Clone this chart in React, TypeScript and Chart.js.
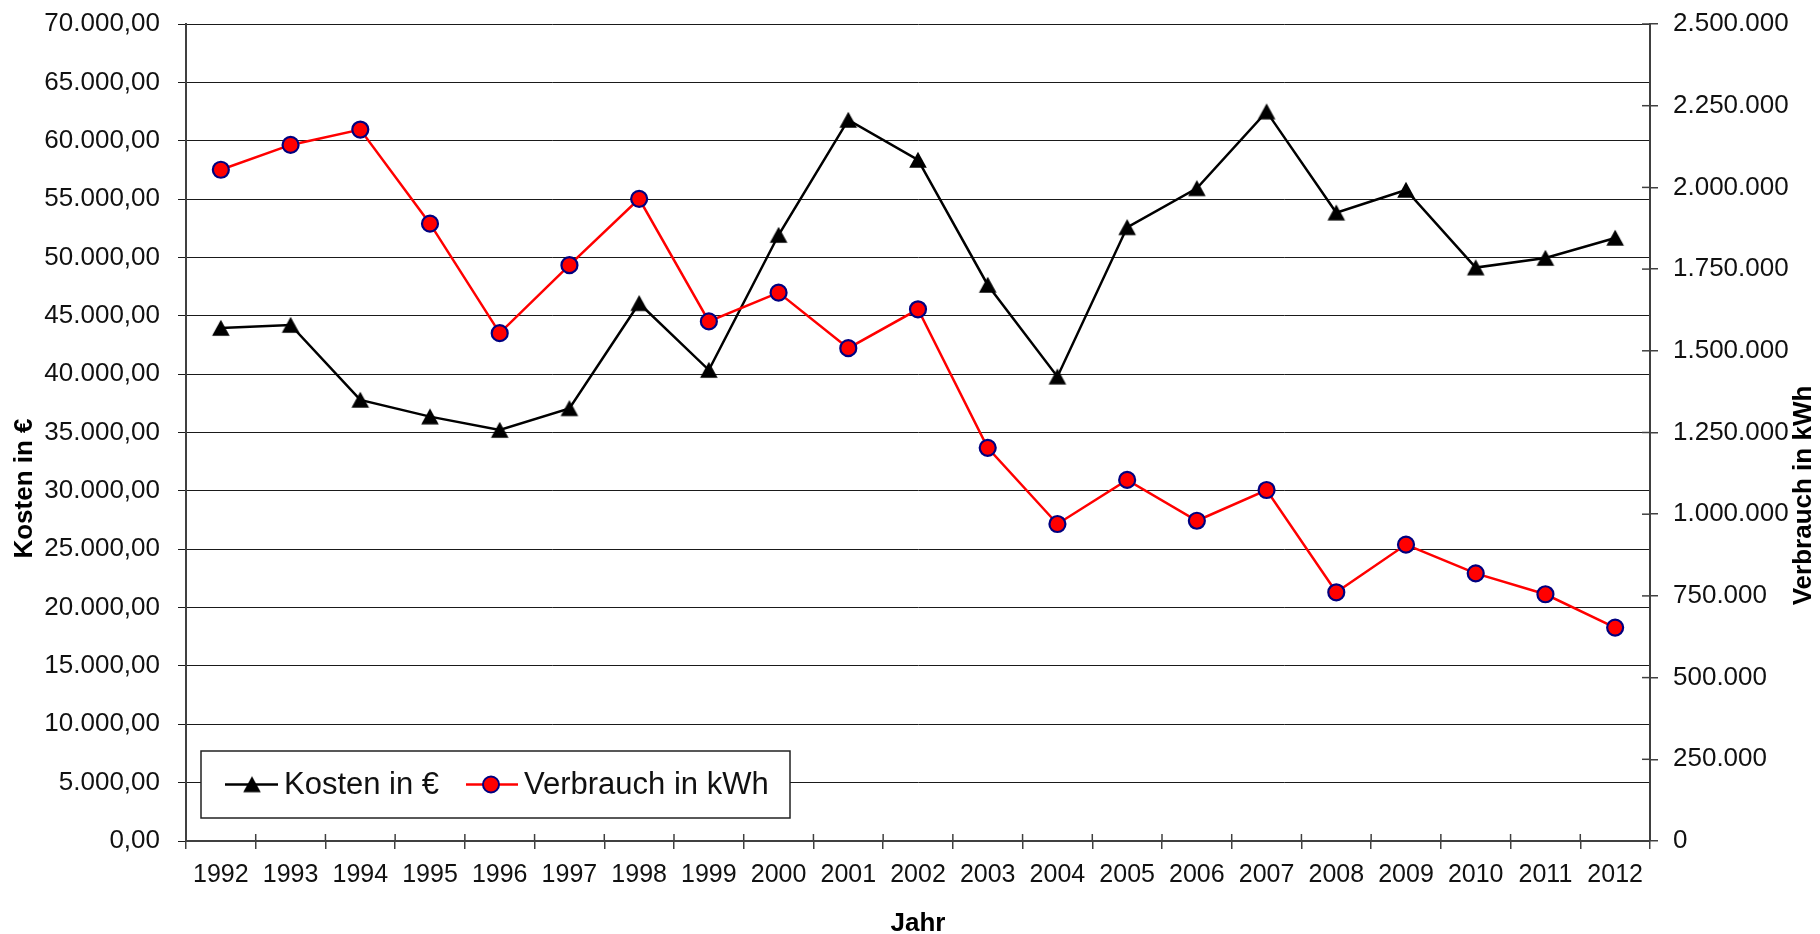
import React, { useEffect, useRef } from "react";
import { Chart, registerables } from "chart.js";

Chart.register(...registerables);

// ---- data ----
const years = [
  "1992", "1993", "1994", "1995", "1996", "1997", "1998", "1999", "2000", "2001", "2002",
  "2003", "2004", "2005", "2006", "2007", "2008", "2009", "2010", "2011", "2012",
];

const kostenEuro = [
  43950, 44210, 37790, 36360, 35210, 37070, 46070, 40350, 51920, 61780, 58350,
  47640, 39780, 52580, 55920, 62490, 53830, 55780, 49130, 49950, 51670,
];

const verbrauchKwh = [
  2054000, 2130000, 2177000, 1889000, 1554000, 1762000, 1965000, 1590000, 1678000, 1508000, 1627000,
  1203000, 970000, 1105000, 980000, 1074000, 761000, 907000, 819000, 755000, 653000,
];

const seriesLabels = ["Kosten in €", "Verbrauch in kWh"];
const axisTitles = { x: "Jahr", left: "Kosten in €", right: "Verbrauch in kWh" };
const leftMax = 70000;
const leftStep = 5000;
const rightMax = 2500000;
const rightStep = 250000;

// ---- helpers ----
const FONT = "'Liberation Sans', Arial, Helvetica, sans-serif";

function groupThousands(n: number): string {
  return Math.round(n)
    .toString()
    .replace(/\B(?=(\d{3})+(?!\d))/g, ".");
}

function makeTriangle(): HTMLCanvasElement {
  const c = document.createElement("canvas");
  c.width = 20;
  c.height = 20;
  const g = c.getContext("2d")!;
  g.fillStyle = "#000";
  g.beginPath();
  g.moveTo(10, 1.8);
  g.lineTo(18.8, 17.8);
  g.lineTo(1.2, 17.8);
  g.closePath();
  g.fill();
  return c;
}

const innerTicksPlugin = {
  id: "innerTicks",
  beforeDatasetsDraw(chart: any) {
    const { ctx, chartArea, scales } = chart;
    ctx.save();
    ctx.strokeStyle = "#404040";
    ctx.lineWidth = 1.5;
    const xs = scales.x;
    const n = xs.getLabels().length;
    const step = xs.getPixelForValue(1) - xs.getPixelForValue(0);
    for (let i = 0; i <= n; i++) {
      const px = xs.getPixelForValue(0) - step / 2 + i * step;
      ctx.beginPath();
      ctx.moveTo(px, chartArea.bottom);
      ctx.lineTo(px, chartArea.bottom - 7);
      ctx.stroke();
    }
    const y1 = scales.y1;
    y1.ticks.forEach((t: any) => {
      const py = y1.getPixelForValue(t.value);
      ctx.beginPath();
      ctx.moveTo(chartArea.right - 8, py);
      ctx.lineTo(chartArea.right, py);
      ctx.stroke();
    });
    ctx.restore();
  },
};

const axisTitlePlugin = {
  id: "axisTitlesRotated",
  afterDraw(chart: any) {
    const { ctx, chartArea, width } = chart;
    const midY = (chartArea.top + chartArea.bottom) / 2;
    ctx.save();
    ctx.font = `bold 26px ${FONT}`;
    ctx.fillStyle = "#000";
    ctx.textAlign = "center";
    ctx.textBaseline = "middle";
    ctx.save();
    ctx.translate(25, midY + 56);
    ctx.rotate(-Math.PI / 2);
    ctx.fillText(axisTitles.left, 0, 0);
    ctx.restore();
    ctx.save();
    ctx.translate(width - 16, midY + 63);
    ctx.rotate(-Math.PI / 2);
    ctx.fillText(axisTitles.right, 0, 0);
    ctx.restore();
    ctx.restore();
  },
};

function makeLegendPlugin(triangle: HTMLCanvasElement) {
  return {
    id: "boxLegend",
    afterDatasetsDraw(chart: any) {
      const { ctx, chartArea } = chart;
      const ds = chart.data.datasets;
      const left = chartArea.left + 15;
      const top = chartArea.bottom - 90;
      const w = 589;
      const h = 67;
      const cy = top + h / 2;
      ctx.save();
      ctx.fillStyle = "#fff";
      ctx.fillRect(left, top, w, h);
      ctx.strokeStyle = "#222";
      ctx.lineWidth = 1.5;
      ctx.strokeRect(left, top, w, h);

      ctx.font = `31px ${FONT}`;
      ctx.textBaseline = "middle";
      ctx.textAlign = "left";

      ctx.strokeStyle = ds[0].borderColor;
      ctx.lineWidth = 2.5;
      ctx.beginPath();
      ctx.moveTo(left + 24, cy);
      ctx.lineTo(left + 77, cy);
      ctx.stroke();
      ctx.drawImage(triangle, left + 51 - 10, cy - 10);
      ctx.fillStyle = "#111";
      ctx.fillText(ds[0].label, left + 83, cy + 1);

      ctx.strokeStyle = ds[1].borderColor;
      ctx.lineWidth = 2.5;
      ctx.beginPath();
      ctx.moveTo(left + 265, cy);
      ctx.lineTo(left + 317, cy);
      ctx.stroke();
      ctx.beginPath();
      ctx.arc(left + 290, cy, 8, 0, Math.PI * 2);
      ctx.fillStyle = ds[1].pointBackgroundColor;
      ctx.fill();
      ctx.lineWidth = 2;
      ctx.strokeStyle = ds[1].pointBorderColor;
      ctx.stroke();
      ctx.fillStyle = "#111";
      ctx.fillText(ds[1].label, left + 323, cy + 1);
      ctx.restore();
    },
  };
}

export default function App() {
  const ref = useRef<HTMLCanvasElement | null>(null);

  useEffect(() => {
    if (!ref.current) return;
    const triangle = makeTriangle();
    const chart = new Chart(ref.current, {
      type: "line",
      data: {
        labels: years,
        datasets: [
          {
            label: seriesLabels[0],
            data: kostenEuro,
            yAxisID: "y",
            borderColor: "#000000",
            backgroundColor: "#000000",
            borderWidth: 2.5,
            pointStyle: triangle as any,
            pointRadius: 9,
            tension: 0,
            order: 1,
          },
          {
            label: seriesLabels[1],
            data: verbrauchKwh,
            yAxisID: "y1",
            borderColor: "#ff0000",
            backgroundColor: "#ff0000",
            borderWidth: 2.5,
            pointStyle: "circle",
            pointRadius: 8,
            pointBorderWidth: 2.2,
            pointBackgroundColor: "#ff0000",
            pointBorderColor: "#000080",
            tension: 0,
            order: 0,
          },
        ],
      },
      options: {
        animation: false,
        responsive: false,
        devicePixelRatio: 1,
        layout: { padding: { top: 24, left: 0, right: 0, bottom: 0 } },
        plugins: {
          legend: { display: false },
          tooltip: { enabled: false },
        },
        scales: {
          x: {
            type: "category",
            offset: true,
            grid: {
              display: true,
              drawOnChartArea: false,
              offset: true,
              tickLength: 8,
              color: "#404040",
              lineWidth: 1.5,
            },
            border: { color: "#404040", width: 2 },
            ticks: {
              font: { family: FONT, size: 25 },
              color: "#111",
              padding: 11,
              maxRotation: 0,
              autoSkip: false,
            },
            title: {
              display: true,
              text: axisTitles.x,
              color: "#000",
              font: { family: FONT, size: 26, weight: "bold", lineHeight: 0.8 },
              padding: { top: 0, bottom: 0 },
            },
            afterFit: (s: any) => {
              s.height = 93;
              s.paddingLeft = 0;
              s.paddingRight = 0;
            },
          },
          y: {
            position: "left",
            min: 0,
            max: leftMax,
            grid: { color: "#1a1a1a", lineWidth: 1, tickLength: 8 },
            border: { color: "#404040", width: 2 },
            ticks: {
              stepSize: leftStep,
              font: { family: FONT, size: 26 },
              color: "#111",
              padding: 18,
              callback: (v: any) => groupThousands(Number(v)) + ",00",
            },
            title: { display: false },
            afterFit: (s: any) => {
              s.width = 186;
              s.paddingTop = 0;
              s.paddingBottom = 0;
            },
          },
          y1: {
            position: "right",
            min: 0,
            max: rightMax,
            grid: { drawOnChartArea: false, color: "#404040", lineWidth: 1.5, tickLength: 8 },
            border: { color: "#404040", width: 2 },
            ticks: {
              stepSize: rightStep,
              font: { family: FONT, size: 26 },
              color: "#111",
              padding: 15,
              callback: (v: any) => groupThousands(Number(v)),
            },
            title: { display: false },
            afterFit: (s: any) => {
              s.width = 170;
              s.paddingTop = 0;
              s.paddingBottom = 0;
            },
          },
        },
      } as any,
      plugins: [innerTicksPlugin, makeLegendPlugin(triangle), axisTitlePlugin],
    });
    return () => chart.destroy();
  }, []);

  return (
    <div style={{ position: "fixed", left: 0, top: 0, width: 1820, height: 934, background: "#fff" }}>
      <canvas ref={ref} width={1820} height={934} style={{ display: "block" }} />
    </div>
  );
}
